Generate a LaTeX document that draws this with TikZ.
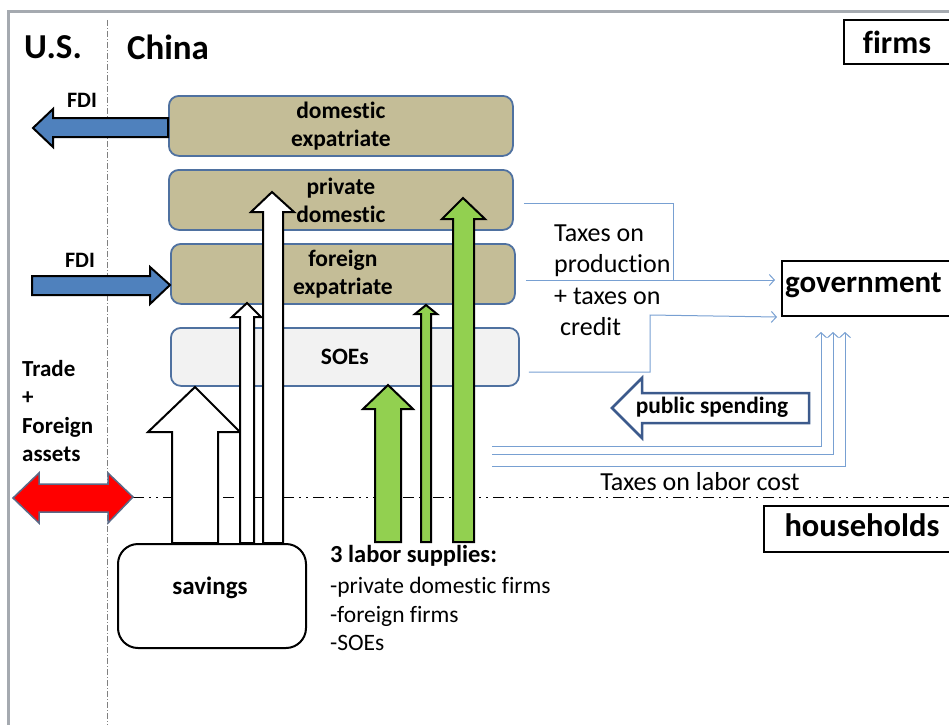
\documentclass[tikz,border=0pt]{standalone}
\usepackage{fontspec}
\setmainfont{Carlito}[Ligatures=NoCommon]
\usetikzlibrary{arrows.meta}
\definecolor{tan}{RGB}{196,189,151}
\definecolor{boxblue}{RGB}{79,113,160}
\definecolor{fdiblue}{RGB}{79,129,189}
\definecolor{lgreen}{RGB}{146,208,80}
\definecolor{soegray}{RGB}{242,242,242}
\definecolor{thinblue}{RGB}{120,160,210}
\definecolor{bordergray}{RGB}{165,170,176}
\definecolor{spendblue}{RGB}{60,90,140}
\definecolor{redline}{RGB}{90,105,135}
\tikzset{
  firmbox/.style={draw=boxblue, line width=1.8pt, fill=tan, rounded corners=10pt, inner sep=0pt, align=center, font=\fontsize{23.5}{28}\selectfont\bfseries},
  soebox/.style={firmbox, fill=soegray},
  sectorbox/.style={draw=black, line width=2pt, inner sep=0pt},
  blockup/.style={draw=black, line width=2pt, line join=miter},
  taxline/.style={draw=thinblue, line width=1pt, -{Straight Barb[length=5pt,width=11pt,line width=1pt]}},
  plainline/.style={draw=thinblue, line width=1pt},
  lbl/.style={inner sep=0pt},
}
\begin{document}
\begin{tikzpicture}[x=1pt,y=-1pt]
\useasboundingbox (0,0) rectangle (949,725);
\clip (0,0) rectangle (949,725);
% frame
\draw[bordergray, line width=3pt] (7,12) -- (949,12);
\draw[bordergray, line width=3pt] (8,12) -- (8,725);
% US/China separator
\draw[gray, line width=0.8pt, dash pattern=on 6pt off 2pt on 1pt off 2pt] (107,20) -- (107,725);
% households separator
\coordinate (sepL) at (133,497);
\coordinate (sepR) at (949,497);
\draw[black, line width=1pt, dash pattern=on 11pt off 5pt on 2pt off 5pt on 2pt off 5pt] (sepL) -- (sepR);

\node[lbl, font=\fontsize{35}{40}\selectfont\bfseries] (us) at (53,47) {U.S.};
\node[lbl, font=\fontsize{35}{40}\selectfont\bfseries] (china) at (168,47) {China};

% sector boxes
\node[sectorbox, minimum width=120pt, minimum height=44pt, anchor=north west] (firms) at (843,19) {};
\node[lbl, font=\fontsize{32}{36}\selectfont\bfseries] (firmst) at (897,42) {firms};
\node[sectorbox, minimum width=200pt, minimum height=55pt, anchor=north west] (gov) at (781,260) {};
\node[lbl, font=\fontsize{31}{36}\selectfont\bfseries, anchor=west] (govt) at (785,285) {government};
\node[sectorbox, minimum width=200pt, minimum height=46pt, anchor=north west] (hh) at (763,505) {};
\node[lbl, font=\fontsize{32.5}{36}\selectfont\bfseries] (hht) at (862,525) {households};

% firm boxes
\node[firmbox, minimum width=344pt, minimum height=60pt, anchor=north west] (de) at (168,95) {domestic\\expatriate};
\node[firmbox, minimum width=344pt, minimum height=60pt, anchor=north west] (pd) at (168,169) {private\\domestic};
\node[firmbox, minimum width=344pt, minimum height=60pt, anchor=north west] (fe) at (170,243) {foreign\\expatriate};
\node[soebox, minimum width=348pt, minimum height=58pt, anchor=north west] (soe) at (170,327) {SOEs};

% FDI arrows
\draw[blockup, fill=fdiblue] (de.west |- 0,118) -- (53,118) -- (53,109) -- (33,128) -- (53,147) -- (53,137) -- (de.west |- 0,137) -- cycle;
\node[lbl, font=\fontsize{22}{26}\selectfont\bfseries] (fdi1) at (82,100) {FDI};
\draw[blockup, fill=fdiblue] (32,276) -- (150,276) -- (150,267) -- (fe.west |- 0,285) -- (150,304) -- (150,295) -- (32,295) -- cycle;
\node[lbl, font=\fontsize{22}{26}\selectfont\bfseries] (fdi2) at (80,260) {FDI};

% trade
\node[lbl, font=\fontsize{23}{28.5}\selectfont\bfseries, align=left, anchor=west] (trade) at (22,411) {Trade\\+\\Foreign\\assets};
\draw[redline, line width=1.5pt, fill=red] (13,498) -- (39,473) -- (39,484) -- (108,484) -- (108,473) -- (sepL) -- (108,523) -- (108,512) -- (39,512) -- (39,523) -- cycle;

% savings
\node[draw=black, line width=2pt, rounded corners=20pt, minimum width=188pt, minimum height=104pt, anchor=north west] (sav) at (117,543) {};
\node[lbl, font=\fontsize{25}{30}\selectfont\bfseries] (savt) at (210,588) {savings};

% white arrows from savings
\draw[blockup, fill=white] (172,543) -- (172,432) -- (148,432) -- (195,387) -- (240,432) -- (218,432) -- (218,543) -- cycle;
\draw[blockup, fill=white] (240,543) -- (240,317) -- (232,317) -- (247,303) -- (261,317) -- (254,317) -- (254,543) -- cycle;
\draw[blockup, fill=white] (263,543) -- (263,212) -- (251,212) -- (272,192) -- (294,212) -- (283,212) -- (283,543) -- cycle;

% green labour arrows
\draw[blockup, fill=lgreen] (375,542) -- (375,409) -- (363,409) -- (388,385) -- (413,409) -- (401,409) -- (401,542) -- cycle;
\draw[blockup, fill=lgreen] (421,542) -- (421,314) -- (415,314) -- (426,305) -- (437,314) -- (431,314) -- (431,542) -- cycle;
\draw[blockup, fill=lgreen] (453,542) -- (453,219) -- (442,219) -- (463,198) -- (485,219) -- (474,219) -- (474,542) -- cycle;

\node[lbl, font=\fontsize{24.5}{28}\selectfont\bfseries, anchor=west] (lab) at (330,556) {3 labor supplies:};
\node[lbl, font=\fontsize{23.5}{28.3}\selectfont, align=left, anchor=west] (labl) at (330,614) {-private domestic firms\\-foreign firms\\-SOEs};

% taxes on production
\coordinate (pA) at (673,203);
\coordinate (pB) at (673,280);
\coordinate (cA) at (650,372);
\coordinate (cB) at (650,315);
\draw[plainline] ([xshift=10pt]pd.east |- pA) -- (pA) -- (pB);
\draw[taxline] ([xshift=10pt]fe.east |- pB) -- ([xshift=-6pt]gov.west |- pB);
\draw[taxline] ([xshift=9pt]soe.east |- cA) -- (cA) -- (cB) -- ([xshift=-4pt]gov.south west);
\node[lbl, font=\fontsize{26}{31.5}\selectfont, align=left, anchor=west] (taxp) at (554,280) {Taxes on\\production\\+ taxes on\\\ credit};

% taxes on labor cost
\coordinate (l1) at (492,446);
\coordinate (l2) at (492,454);
\coordinate (l3) at (492,466);
\draw[taxline] (l1) -- (821,446) -- (821,332);
\draw[taxline] (l2) -- (833,454) -- (833,332);
\draw[taxline] (l3) -- (845,466) -- (845,332);
\node[lbl, font=\fontsize{26}{30}\selectfont] (taxl) at (700,482) {Taxes on labor cost};

% public spending
\draw[spendblue, line width=2.5pt, fill=white, line join=miter] (809,393) -- (642,393) -- (642,378) -- (612,408) -- (642,438) -- (642,423) -- (809,423) -- cycle;
\node[lbl, font=\fontsize{23.4}{28}\selectfont\bfseries] (spend) at (712,407) {public spending};
\end{tikzpicture}
\end{document}
